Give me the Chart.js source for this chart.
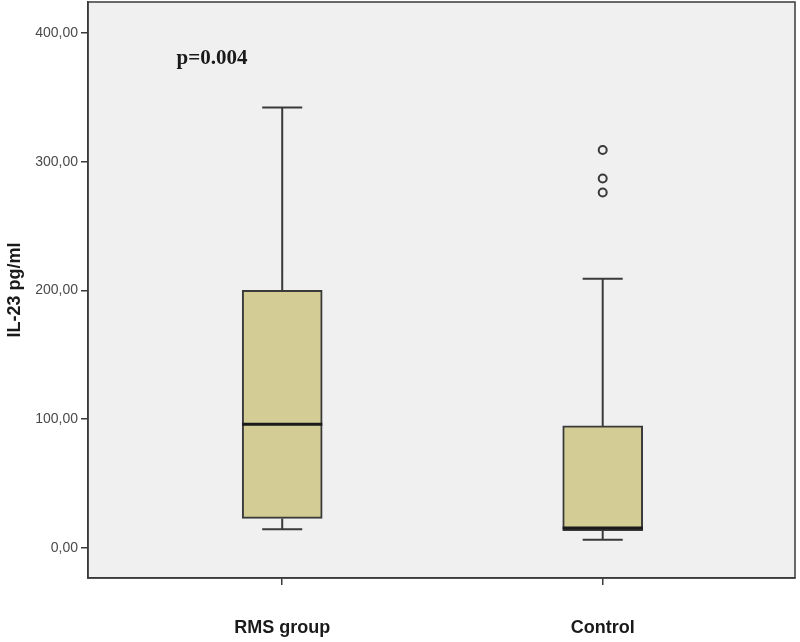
<!DOCTYPE html>
<html>
<head>
<meta charset="utf-8">
<script src="https://cdn.jsdelivr.net/npm/chart.js@4/dist/chart.umd.min.js"></script>
<style>
  html, body { margin: 0; padding: 0; background: #ffffff; }
  #wrap { width: 800px; height: 642px; }
</style>
</head>
<body>
<div id="wrap"><canvas id="myChart" width="800" height="642"></canvas></div>
<script>
// Données
const categories = ['RMS group', 'Control'];
const whiskerLow = [14.5, 6.5];
const q1 = [23, 13.5];
const median = [96, 15.5];
const q3 = [200, 94.8];
const whiskerHigh = [342, 209];
const outliers = [[], [309, 287, 276]];
const yTicks = [0, 100, 200, 300, 400];
const pValue = 'p=0.004';

const dark = '#3a3a3a';
const boxHalf = 0.125;   // demi-largeur de la boite (unités axe x)
const capHalf = 0.0625;  // demi-largeur des moustaches

// Construit les segments (moustaches + mediane), séparés par des null
const whiskerData = [];
const medianData = [];
categories.forEach((c, i) => {
    whiskerData.push({x: i, y: q3[i]}, {x: i, y: whiskerHigh[i]}, {x: i, y: null});
    whiskerData.push({x: i - capHalf, y: whiskerHigh[i]}, {x: i + capHalf, y: whiskerHigh[i]}, {x: i, y: null});
    whiskerData.push({x: i, y: q1[i]}, {x: i, y: whiskerLow[i]}, {x: i, y: null});
    whiskerData.push({x: i - capHalf, y: whiskerLow[i]}, {x: i + capHalf, y: whiskerLow[i]}, {x: i, y: null});
    medianData.push({x: i - boxHalf, y: median[i]}, {x: i + boxHalf, y: median[i]}, {x: i, y: null});
});
const outlierData = [];
outliers.forEach((list, i) => list.forEach(v => outlierData.push({x: i, y: v})));

// Fond gris de la zone de tracé + cadre + texte p
const plotFrame = {
    id: 'plotFrame',
    beforeDraw(chart) {
        const a = chart.chartArea;
        const ctx = chart.ctx;
        ctx.save();
        ctx.fillStyle = '#f0f0f0';
        ctx.fillRect(a.left, a.top, a.right - a.left, a.bottom - a.top);
        ctx.restore();
    },
    afterDraw(chart) {
        const a = chart.chartArea;
        const ctx = chart.ctx;
        ctx.save();
        ctx.strokeStyle = dark;
        ctx.lineWidth = 1.5;
        ctx.strokeRect(a.left, a.top, a.right - a.left, a.bottom - a.top);
        ctx.fillStyle = '#1a1a1a';
        ctx.font = 'bold 21px "Liberation Serif", "Times New Roman", serif';
        ctx.textAlign = 'center';
        ctx.textBaseline = 'middle';
        ctx.fillText(pValue, chart.scales.x.getPixelForValue(-0.219), chart.scales.y.getPixelForValue(380));
        ctx.restore();
    }
};

const config = {
    type: 'bar',
    data: {
        datasets: [
            {
                type: 'bar',
                data: categories.map((c, i) => ({x: i, y: [q1[i], q3[i]]})),
                backgroundColor: '#d3cd95',
                borderColor: dark,
                borderWidth: 2,
                borderSkipped: false,
                barThickness: 80,
                order: 3
            },
            {
                type: 'line',
                data: whiskerData,
                borderColor: dark,
                borderWidth: 2,
                pointRadius: 0,
                spanGaps: false,
                order: 2
            },
            {
                type: 'line',
                data: medianData,
                borderColor: '#1a1a1a',
                borderWidth: 3,
                pointRadius: 0,
                spanGaps: false,
                order: 1
            },
            {
                type: 'scatter',
                data: outlierData,
                pointStyle: 'circle',
                pointRadius: 4,
                pointBorderWidth: 2,
                pointBorderColor: dark,
                pointBackgroundColor: '#f0f0f0',
                order: 0
            }
        ]
    },
    options: {
        responsive: false,
        animation: false,
        layout: { autoPadding: false, padding: { top: 2, right: 5, left: 0, bottom: 0 } },
        plugins: {
            legend: { display: false },
            tooltip: { enabled: false }
        },
        scales: {
            x: {
                type: 'linear',
                offset: false,
                min: -0.606,
                max: 1.6,
                afterBuildTicks: (scale) => { scale.ticks = categories.map((c, i) => ({value: i})); },
                afterFit: (scale) => { scale.height = 64; scale.paddingLeft = 0; scale.paddingRight = 0; },
                ticks: {
                    callback: (v) => categories[v],
                    padding: 32,
                    color: '#1a1a1a',
                    font: { family: '"Liberation Sans", Arial, sans-serif', size: 18, weight: 'bold' },
                    maxRotation: 0
                },
                grid: { offset: false, drawOnChartArea: false, drawTicks: true, tickLength: 7, color: dark, lineWidth: 1.5 },
                border: { display: true, color: dark, width: 1.5 }
            },
            y: {
                type: 'linear',
                min: -23.3,
                max: 424,
                afterBuildTicks: (scale) => { scale.ticks = yTicks.map(v => ({value: v})); },
                afterFit: (scale) => { scale.width = 88; scale.paddingTop = 0; scale.paddingBottom = 0; },
                ticks: {
                    callback: (v) => v.toFixed(2).replace('.', ','),
                    padding: 3,
                    color: '#4a4a4a',
                    font: { family: '"Liberation Sans", Arial, sans-serif', size: 14 }
                },
                grid: { drawOnChartArea: false, drawTicks: true, tickLength: 7, color: dark, lineWidth: 1.5 },
                border: { display: true, color: dark, width: 1.5 },
                title: {
                    display: true,
                    text: 'IL-23 pg/ml',
                    color: '#1a1a1a',
                    padding: { top: 4, bottom: 0 },
                    font: { family: '"Liberation Sans", Arial, sans-serif', size: 18, weight: 'bold' }
                }
            }
        }
    },
    plugins: [plotFrame]
};

const ctx = document.getElementById('myChart').getContext('2d');
const chart = new Chart(ctx, config);
</script>
</body>
</html>
